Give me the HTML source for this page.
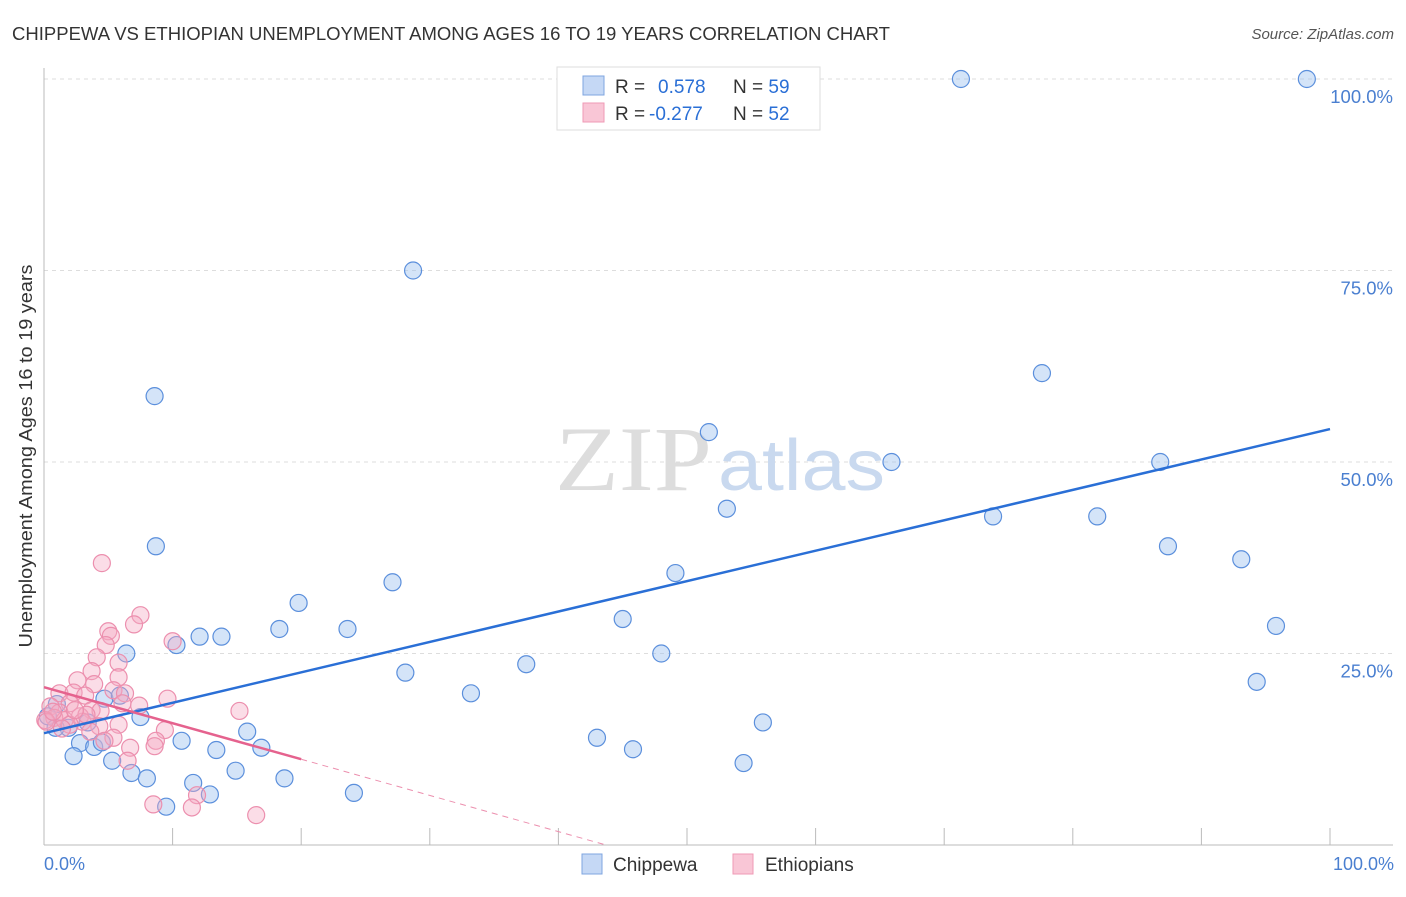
<!DOCTYPE html>
<html><head><meta charset="utf-8"><style>
body{margin:0;background:#fff;font-family:"Liberation Sans",sans-serif;}
</style></head><body>
<svg width="1406" height="892" xmlns="http://www.w3.org/2000/svg">
<text x="12" y="40" font-size="18" fill="#333" textLength="878" lengthAdjust="spacingAndGlyphs">CHIPPEWA VS ETHIOPIAN UNEMPLOYMENT AMONG AGES 16 TO 19 YEARS CORRELATION CHART</text>
<text x="1394" y="39" font-size="15" fill="#555" font-style="italic" text-anchor="end">Source: ZipAtlas.com</text>
<g id="grid"></g>
<text x="555" y="490" font-size="92" fill="#ddd" font-family="Liberation Serif" textLength="157" lengthAdjust="spacingAndGlyphs">ZIP</text>
<text x="718" y="490" font-size="72" fill="#c9d9ef" textLength="167" lengthAdjust="spacingAndGlyphs">atlas</text>
<g id="pts"></g><g id="lines"></g>
<text x="32" y="456" font-size="18" fill="#333" text-anchor="middle" textLength="383" lengthAdjust="spacingAndGlyphs" transform="rotate(-90 32 456)">Unemployment Among Ages 16 to 19 years</text>
<text x="44" y="870" font-size="18" fill="#4a7fd0">0.0%</text>
<text x="1394" y="870" font-size="18" fill="#4a7fd0" text-anchor="end">100.0%</text>
<g>
<rect x="557" y="67" width="263" height="63" fill="#fff" stroke="#ddd"/>
<rect x="583" y="76" width="21" height="19" fill="#c5d8f5" stroke="#7fa6e0"/>
<rect x="583" y="103" width="21" height="19" fill="#f9c6d6" stroke="#ef9ab5"/>
<text x="615" y="93" font-size="19" fill="#333">R = <tspan fill="#2a6fd6" x="658">0.578</tspan><tspan x="733" fill="#333">N = </tspan><tspan fill="#2a6fd6">59</tspan></text>
<text x="615" y="120" font-size="19" fill="#333">R = <tspan fill="#2a6fd6" x="649">-0.277</tspan><tspan x="733" fill="#333">N = </tspan><tspan fill="#2a6fd6">52</tspan></text>
</g>
<g>
<rect x="582" y="854" width="20" height="20" fill="#c5d8f5" stroke="#7fa6e0"/>
<text x="613" y="871" font-size="19" fill="#333">Chippewa</text>
<rect x="733" y="854" width="20" height="20" fill="#f9c6d6" stroke="#ef9ab5"/>
<text x="765" y="871" font-size="19" fill="#333">Ethiopians</text>
</g>
</svg>
<script>
const chipX=[71.3,98.2,28.7,8.6,77.6,51.7,65.9,86.8,53.1,73.8,81.9,8.7,87.4,49.1,27.1,93.1,19.8,45.0,95.8,18.3,23.6,12.1,13.8,10.3,6.4,48.0,37.5,28.1,94.3,33.2,4.7,5.9,1.0,7.5,0.3,3.4,1.9,0.9,15.8,55.9,10.7,43.0,45.8,13.4,16.9,2.8,3.9,4.5,5.3,2.3,6.8,8.0,11.6,14.9,18.7,54.4,12.9,9.5,24.1];
const chipY=[100,100,75,58.6,61.6,53.9,50,50,43.9,42.9,42.9,39,39,35.5,34.3,37.3,31.6,29.5,28.6,28.2,28.2,27.2,27.2,26.1,25,25,23.6,22.5,21.3,19.8,19.1,19.5,18.4,16.7,16.8,16,15.3,15.3,14.8,16,13.6,14,12.5,12.4,12.7,13.3,12.8,13.4,11,11.6,9.4,8.7,8.1,9.7,8.7,10.7,6.6,5,6.8];
const ethX=[4.5,7.5,7.0,5.0,5.2,10.0,4.8,4.1,5.8,3.7,2.6,5.8,3.9,5.4,6.3,9.6,1.2,2.3,3.2,7.4,6.1,3.7,15.2,4.4,2.0,0.5,1.2,0.8,2.8,0.1,1.6,3.0,4.3,5.8,9.4,0.2,2.0,3.6,8.7,5.4,8.6,6.7,4.7,11.9,11.5,8.5,16.5,6.5,3.3,0.7,2.4,1.4];
const ethY=[36.8,30,28.8,27.9,27.3,26.6,26.1,24.5,23.8,22.7,21.5,21.9,21,20.2,19.8,19.1,19.8,19.9,19.5,18.2,18.5,17.6,17.5,17.5,18.5,18.1,17.3,16.6,16.8,16.3,16.3,16.1,15.5,15.7,15,16.1,15.7,14.8,13.6,14,12.9,12.7,13.6,6.5,4.9,5.3,3.9,11,17,17.4,17.6,15.2];
const NS="http://www.w3.org/2000/svg";
const xs=v=>44+v*12.86, ys=v=>845-v*7.66;
const grid=document.getElementById('grid');
function mk(t,a,p){const e=document.createElementNS(NS,t);for(const k in a)e.setAttribute(k,a[k]);p.appendChild(e);return e;}
const yT=[25,50,75,100];
yT.forEach(v=>{const l=mk('line',{x1:44,x2:1393,y1:ys(v),y2:ys(v),stroke:'#ddd','stroke-dasharray':'4,4'},grid);


const t=mk('text',{x:1393,y:ys(v)+24,'font-size':18.5,fill:'#4a7fd0','text-anchor':'end'},grid);t.textContent=v.toFixed(1)+'%';

});
mk('line',{x1:44,x2:44,y1:68,y2:845,stroke:'#bbb'},grid);
mk('line',{x1:44,x2:1393,y1:845,y2:845,stroke:'#bbb'},grid);
for(let i=1;i<=10;i++){const l=mk('line',{x1:xs(i*10),x2:xs(i*10),y1:828,y2:845,stroke:'#bbb'},grid);

}
const pts=document.getElementById('pts');
chipX.forEach((x,i)=>{const c=mk('circle',{cx:xs(x),cy:ys(chipY[i]),r:8.5,fill:'rgba(160,195,240,0.45)',stroke:'#5b8fdc','stroke-width':1.2},pts);

});
ethX.forEach((x,i)=>{const c=mk('circle',{cx:xs(x),cy:ys(ethY[i]),r:8.5,fill:'rgba(245,170,195,0.4)',stroke:'#ec8fae','stroke-width':1.2},pts);

});
const lines=document.getElementById('lines');
let l=mk('line',{x1:xs(0),y1:ys(14.6),x2:xs(100),y2:ys(54.3),stroke:'#2a6fd6','stroke-width':2.5},lines);


l=mk('line',{x1:xs(0),y1:ys(20.6),x2:xs(20),y2:ys(11.2),stroke:'#e5628e','stroke-width':2.5},lines);


l=mk('line',{x1:xs(20),y1:ys(11.2),x2:xs(43.7),y2:ys(0),stroke:'#ec8fae','stroke-width':1,'stroke-dasharray':'6,5'},lines);


</script>
</body></html>
